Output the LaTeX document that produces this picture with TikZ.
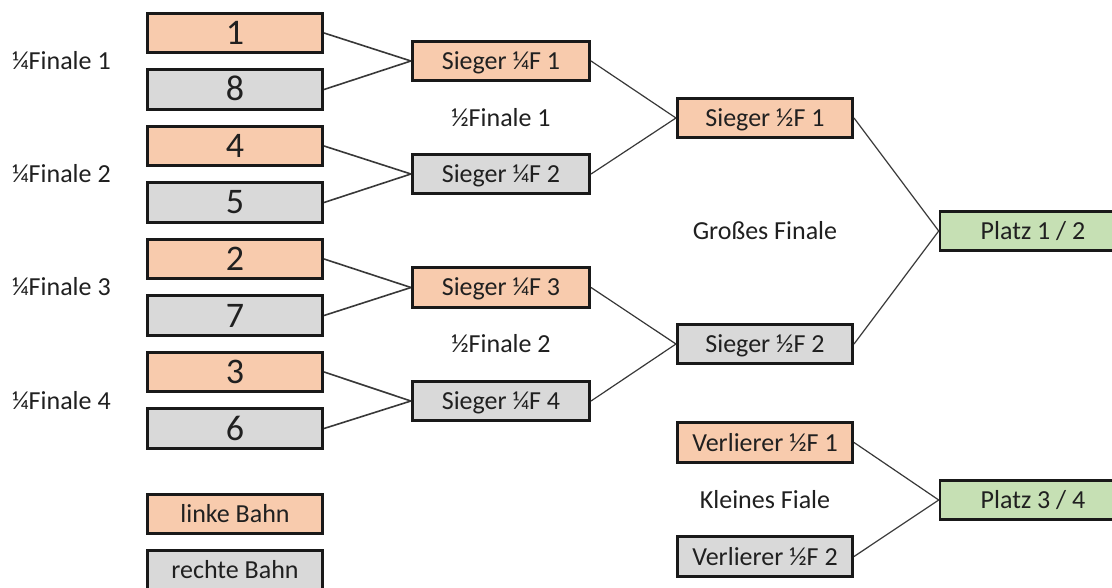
\documentclass[tikz,border=0pt]{standalone}
\usepackage{fontspec}
\setmainfont{Carlito}
\definecolor{peach}{HTML}{F8CBAD}
\definecolor{greybox}{HTML}{D9D9D9}
\definecolor{lgreen}{HTML}{C6E0B4}
\definecolor{txt}{HTML}{202020}
\definecolor{conn}{HTML}{383838}
\begin{document}
\begin{tikzpicture}[x=1pt,y=-1pt,
  box/.style={draw=black!90, line width=2.6pt, minimum height=39.5pt, inner sep=0pt,
    text height=17pt, text depth=0pt, font=\fontsize{26}{31}\selectfont, text=txt},
  seedbox/.style={box, minimum width=175.5pt, font=\fontsize{36}{40}\selectfont, text height=23pt},
  legbox/.style={box, minimum width=175.5pt},
  qbox/.style={box, minimum width=177.5pt},
  hbox/.style={box, minimum width=175.5pt},
  pbox/.style={box, minimum width=186pt, fill=lgreen},
  lbl/.style={font=\fontsize{26}{31}\selectfont, text=txt, inner sep=0pt, text height=17pt, text depth=0pt},
  conline/.style={draw=conn, line width=1.6pt},
  thinline/.style={draw=conn, line width=1.2pt}
]
\clip (0,0) rectangle (1112,588);
\fill[white] (0,0) rectangle (1112,588);
% seeds
\node[seedbox, fill=peach]   (s1) at (235,33)    {1};
\node[seedbox, fill=greybox] (s8) at (235,89.5)  {8};
\node[seedbox, fill=peach]   (s4) at (235,146)   {4};
\node[seedbox, fill=greybox] (s5) at (235,202.5) {5};
\node[seedbox, fill=peach]   (s2) at (235,259)   {2};
\node[seedbox, fill=greybox] (s7) at (235,315.5) {7};
\node[seedbox, fill=peach]   (s3) at (235,372)   {3};
\node[seedbox, fill=greybox] (s6) at (235,428.5) {6};
% quarter final winners
\node[qbox, fill=peach]   (q1) at (501,61)    {Sieger ¼F 1};
\node[qbox, fill=greybox] (q2) at (501,174)   {Sieger ¼F 2};
\node[qbox, fill=peach]   (q3) at (501,287.5) {Sieger ¼F 3};
\node[qbox, fill=greybox] (q4) at (501,401)   {Sieger ¼F 4};
% semi final winners and losers
\node[hbox, fill=peach]   (h1) at (765,118)   {Sieger ½F 1};
\node[hbox, fill=greybox] (h2) at (765,344)   {Sieger ½F 2};
\node[hbox, fill=peach]   (v1) at (765,442.5) {Verlierer ½F 1};
\node[hbox, fill=greybox] (v2) at (765,556.5) {Verlierer ½F 2};
% places
\node[pbox] (p12) at (1033,231) {Platz 1 / 2};
\node[pbox] (p34) at (1033,500) {Platz 3 / 4};
% legend
\node[legbox, fill=peach]   (lg1) at (235,514) {linke Bahn};
\node[legbox, fill=greybox] (lg2) at (235,570) {rechte Bahn};
% labels
\node[lbl, anchor=west] (lq1) at (12,61)    {¼Finale 1};
\node[lbl, anchor=west] (lq2) at (12,174)   {¼Finale 2};
\node[lbl, anchor=west] (lq3) at (12,287.5) {¼Finale 3};
\node[lbl, anchor=west] (lq4) at (12,401)   {¼Finale 4};
\node[lbl] (lh1) at (501,118) {½Finale 1};
\node[lbl] (lh2) at (501,344) {½Finale 2};
\node[lbl] (lgf) at (765,231) {Großes Finale};
\node[lbl] (lkf) at (765,500) {Kleines Fiale};
% connectors
\draw[conline] (s1.east) -- (q1.west);
\draw[conline] (s8.east) -- (q1.west);
\draw[conline] (s4.east) -- (q2.west);
\draw[conline] (s5.east) -- (q2.west);
\draw[conline] (s2.east) -- (q3.west);
\draw[conline] (s7.east) -- (q3.west);
\draw[conline] (s3.east) -- (q4.west);
\draw[conline] (s6.east) -- (q4.west);
\draw[thinline] (q1.east) -- (h1.west);
\draw[thinline] (q2.east) -- (h1.west);
\draw[thinline] (q3.east) -- (h2.west);
\draw[thinline] (q4.east) -- (h2.west);
\draw[thinline] (h1.east) -- (p12.west);
\draw[thinline] (h2.east) -- (p12.west);
\draw[thinline] (v1.east) -- (p34.west);
\draw[thinline] (v2.east) -- (p34.west);
\end{tikzpicture}
\end{document}
